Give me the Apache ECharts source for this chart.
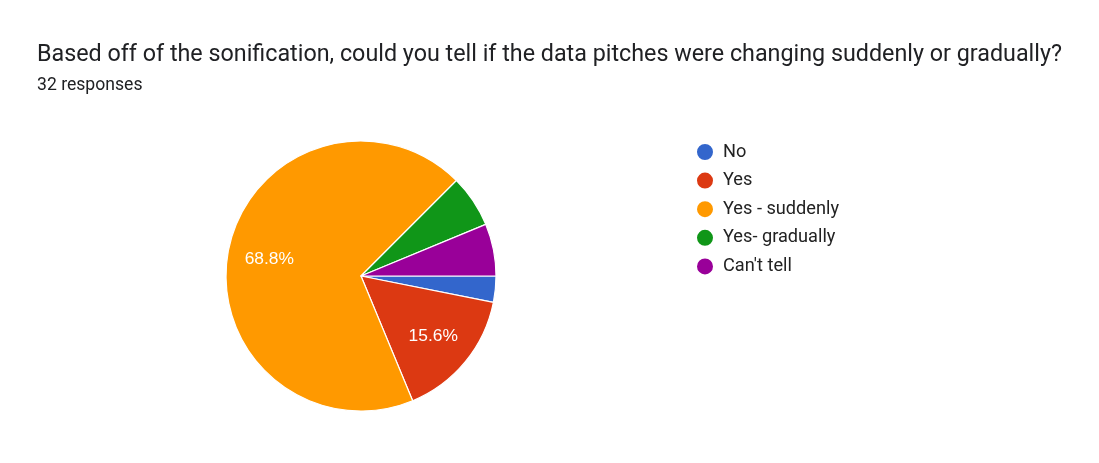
<!DOCTYPE html>
<html>
<head>
<meta charset="utf-8">
<script src="https://cdn.jsdelivr.net/npm/echarts@6/dist/echarts.min.js"></script>
<style>
html,body{margin:0;padding:0;background:#fff;}
#chart{width:1099px;height:463px;}
</style>
</head>
<body>
<div id="chart"></div>
<script>
var categories = ["No", "Yes", "Yes - suddenly", "Yes- gradually", "Can't tell"];
var counts = [1, 5, 22, 2, 2];
var colors = ["#3366cc", "#dc3912", "#ff9900", "#109618", "#990099"];
var titleText = "Based off of the sonification, could you tell if the data pitches were changing suddenly or gradually?";
var subtitleText = "32 responses";

var total = counts.reduce(function(a, b){ return a + b; }, 0);
var pieData = categories.map(function(c, i){
  return { name: c, value: counts[i], itemStyle: { color: colors[i] } };
});
var labelData = categories.map(function(c, i){
  return { name: c, value: counts[i] };
});

var chart = echarts.init(document.getElementById('chart'));
chart.setOption({
  animation: false,
  title: [
    { text: titleText, left: 37, top: 43, padding: 0,
      textStyle: { fontFamily: 'Roboto', fontSize: 23.3, lineHeight: 24, fontWeight: 'normal', color: '#202124' } },
    { text: subtitleText, left: 37, top: 77, padding: 0,
      textStyle: { fontFamily: 'Roboto', fontSize: 17.6, lineHeight: 18, fontWeight: 'normal', color: '#202124' } }
  ],
  legend: {
    orient: 'vertical', left: 695, top: 142, padding: 0,
    icon: 'circle', itemWidth: 18, itemHeight: 18, itemGap: 8.6,
    data: categories,
    textStyle: { fontFamily: 'Roboto', fontSize: 18.2, lineHeight: 18, color: '#222', padding: [0, 0, 0, 4] }
  },
  series: [
    {
      type: 'pie', center: [361, 276], radius: [0, 135],
      startAngle: 0, clockwise: true,
      label: { show: false }, labelLine: { show: false },
      itemStyle: { borderColor: '#fff', borderWidth: 1.2 },
      emphasis: { disabled: true },
      data: pieData
    },
    {
      type: 'pie', center: [361, 277], radius: [46, 135],
      startAngle: 0, clockwise: true, silent: true,
      legendHoverLink: false,
      itemStyle: { color: 'rgba(0,0,0,0)' },
      emphasis: { disabled: true },
      label: {
        show: true, position: 'inside', color: '#fff',
        fontFamily: 'Arial', fontSize: 17.4,
        formatter: function(p){
          var pct = p.value / total * 100;
          return pct >= 10 ? pct.toFixed(1) + '%' : '';
        }
      },
      labelLine: { show: false },
      data: labelData
    }
  ]
});
</script>
</body>
</html>
